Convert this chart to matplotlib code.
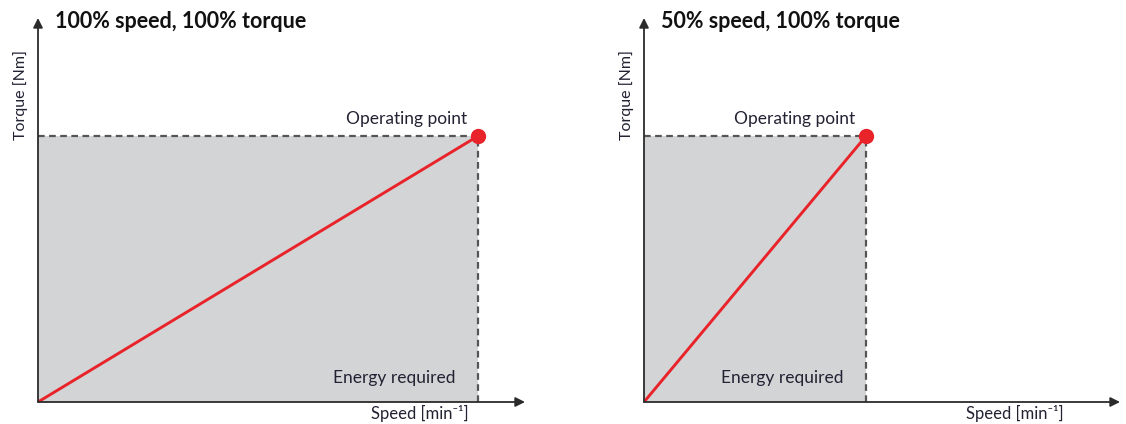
import matplotlib.pyplot as plt

# panel data (fraction of rated value)
titles = ['100% speed, 100% torque', '50% speed, 100% torque']
speed = [1.0, 0.5]
torque = [1.0, 1.0]
xmax = [1.107, 1.072]
ymax = 1.444

W, H = 1126, 424
fig = plt.figure(figsize=(W / 100, H / 100), dpi=100)
plt.rcParams['font.family'] = ['Lato', 'DejaVu Sans']

# axes origin / extent in pixels
origins = [38, 644]
ends = [525, 1120]
y0, y1 = 402, 18

red = '#e8232a'
fill = '#d3d4d6'
dark = '#2b2b2b'
txt = '#222233'

for i in range(2):
    w = ends[i] - origins[i]
    hgt = y0 - y1
    ax = fig.add_axes([origins[i] / W, (H - y0) / H, w / W, hgt / H])
    ax.set_xlim(0, xmax[i])
    ax.set_ylim(0, ymax)
    ax.axis('off')

    s, t = speed[i], torque[i]
    ax.fill_between([0, s], 0, t, color=fill, lw=0, zorder=1)
    ax.plot([0, s], [t, t], ls=(0, (3, 2)), color='#555555', lw=1.6, zorder=2)
    ax.plot([s, s], [0, t], ls=(0, (3, 2)), color='#555555', lw=1.6, zorder=2)
    ax.plot([0, s], [0, t], color=red, lw=2.1, zorder=3)
    ax.plot([s], [t], 'o', color=red, ms=10, zorder=4)

    # axis arrows
    ax.annotate('', xy=(1, 0), xytext=(0, 0), xycoords='axes fraction',
                arrowprops=dict(arrowstyle='-|>', color=dark, lw=1.3,
                                mutation_scale=14, shrinkA=0, shrinkB=0))
    ax.annotate('', xy=(0, 1), xytext=(0, 0), xycoords='axes fraction',
                arrowprops=dict(arrowstyle='-|>', color=dark, lw=1.3,
                                mutation_scale=14, shrinkA=0, shrinkB=0))

    ax.text(s - 0.025, t + 0.035, 'Operating point', ha='right', va='bottom',
            fontsize=12.5, color=txt)
    ax.text(s - 0.05, 0.06, 'Energy required', ha='right', va='bottom',
            fontsize=12.5, color=txt)
    ax.text(17 / w, 1 - 4 / hgt, titles[i], transform=ax.transAxes,
            ha='left', va='center', fontsize=15.5, fontweight='bold',
            color='#111111')
    ax.text(-17 / w, 0.80, 'Torque [Nm]', transform=ax.transAxes,
            rotation=90, ha='center', va='center', fontsize=11.5, color=txt)
    ax.text(1 - 56 / w, -11 / hgt, 'Speed [min\u207b\u00b9]', ha='right',
            va='center', transform=ax.transAxes, fontsize=12, color=txt)

fig.savefig('out.png', dpi=100)
